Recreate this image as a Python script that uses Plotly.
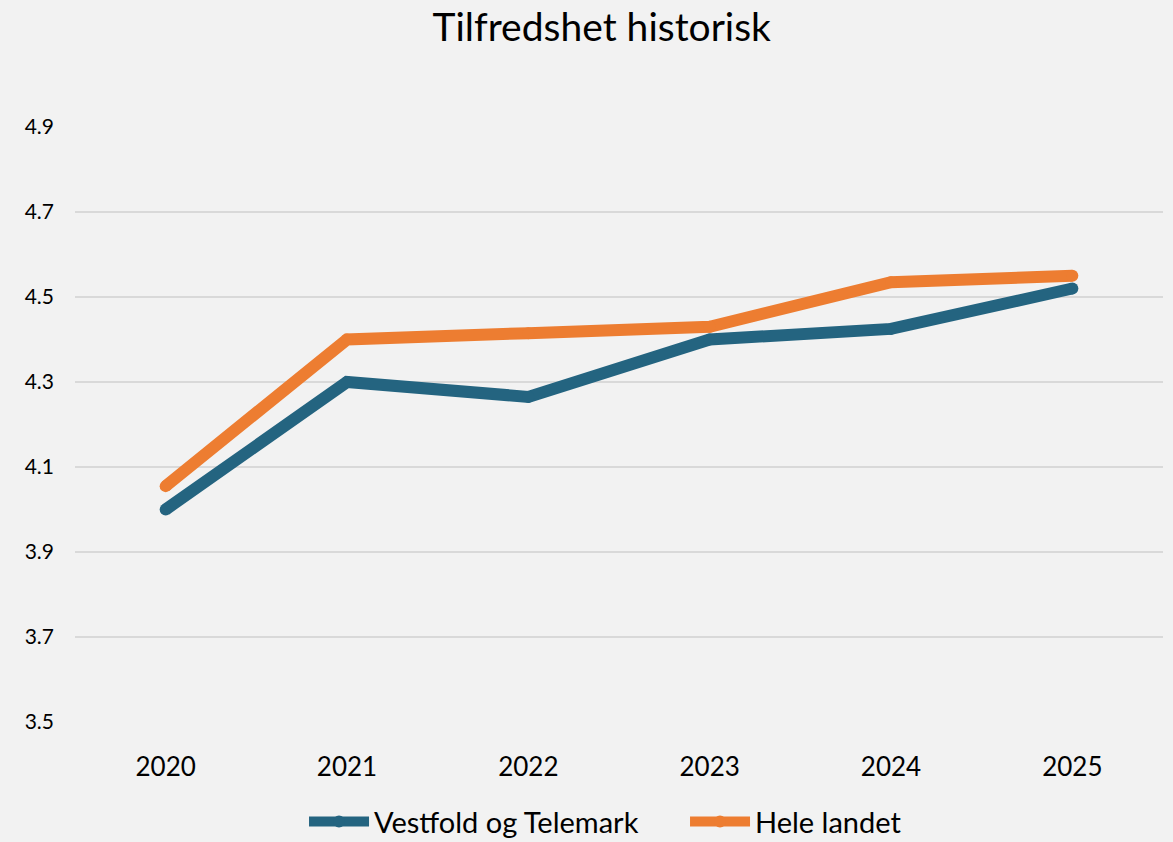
import plotly.graph_objects as go

years = ["2020", "2021", "2022", "2023", "2024", "2025"]
vestfold = [4.00, 4.30, 4.265, 4.40, 4.425, 4.52]
hele_landet = [4.055, 4.40, 4.415, 4.43, 4.535, 4.55]
y_ticks = [3.5, 3.7, 3.9, 4.1, 4.3, 4.5, 4.7, 4.9]

BLUE = "#246480"
ORANGE = "#ED7D31"
FONT = "Lato"

fig = go.Figure()
fig.add_trace(go.Scatter(
    x=years, y=vestfold, name="Vestfold og Telemark", mode="lines+markers",
    line=dict(color=BLUE, width=12), marker=dict(size=12, color=BLUE),
))
fig.add_trace(go.Scatter(
    x=years, y=hele_landet, name="Hele landet", mode="lines+markers",
    line=dict(color=ORANGE, width=12), marker=dict(size=12, color=ORANGE),
))

fig.update_layout(
    width=1173, height=842,
    paper_bgcolor="#F2F2F2", plot_bgcolor="#F2F2F2",
    font=dict(family=FONT, color="#000000"),
    title=dict(text="Tilfredshet historisk", x=0.513, xanchor="center",
               y=0.967, yanchor="middle", font=dict(size=39, family=FONT)),
    margin=dict(l=75, r=10, t=127, b=120, autoexpand=False),
    showlegend=True,
    legend=dict(orientation="h", x=0.2105, xanchor="left", y=-0.1245, yanchor="top",
                font=dict(size=29, family=FONT), bgcolor="rgba(0,0,0,0)",
                itemwidth=60, entrywidth=306, entrywidthmode="pixels"),
    xaxis=dict(type="category", range=[-0.5, 5.5], showgrid=False, showline=False,
               ticks="", tickfont=dict(size=26, family=FONT), ticklabelstandoff=27),
    yaxis=dict(range=[3.5, 4.9], tickvals=y_ticks, ticktext=[f"{v:.1f}" for v in y_ticks],
               showgrid=True, gridcolor="#D9D9D9", gridwidth=2, zeroline=False,
               showline=False, ticks="", tickfont=dict(size=21, family=FONT),
               ticklabelstandoff=20),
)

fig.write_html("out.html", config={"displayModeBar": False},
               post_script="document.body.style.margin='0';")
